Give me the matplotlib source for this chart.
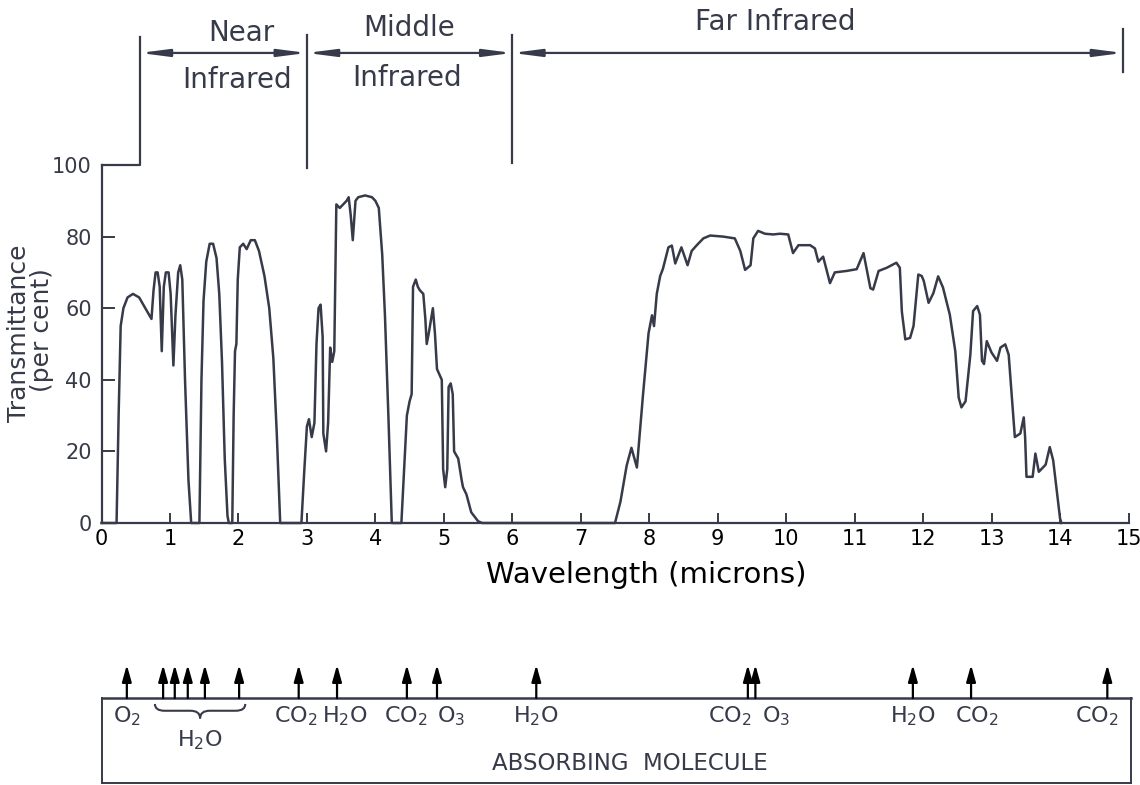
import matplotlib
matplotlib.use("Agg")
import matplotlib.pyplot as plt
from matplotlib.path import Path
from matplotlib.patches import PathPatch

# atmospheric transmittance curve
wavelength = [0.00, 0.22, 0.25, 0.28, 0.32, 0.38, 0.46, 0.55, 0.64, 0.73, 0.76, 0.79, 0.82, 0.85,
              0.88, 0.91, 0.94, 0.98, 1.01, 1.05, 1.08, 1.12, 1.15, 1.18, 1.22, 1.27, 1.31, 1.43,
              1.46, 1.49, 1.53, 1.58, 1.63, 1.68, 1.72, 1.76, 1.80, 1.84, 1.86, 1.91, 1.93, 1.95,
              1.97, 1.99, 2.02, 2.07, 2.12, 2.18, 2.24, 2.30, 2.38, 2.45, 2.51, 2.56, 2.61, 2.92,
              2.96, 3.00, 3.03, 3.07, 3.11, 3.14, 3.17, 3.20, 3.23, 3.24, 3.28, 3.31, 3.34, 3.37,
              3.40, 3.43, 3.48, 3.53, 3.58, 3.61, 3.64, 3.67, 3.71, 3.75, 3.85, 3.95, 4.00, 4.05,
              4.10, 4.14, 4.19, 4.24, 4.38, 4.42, 4.46, 4.50, 4.53, 4.55, 4.59, 4.62, 4.65, 4.70,
              4.73, 4.75, 4.78, 4.84, 4.87, 4.90, 4.97, 4.99, 5.02, 5.05, 5.07, 5.10, 5.13, 5.15,
              5.21, 5.26, 5.28, 5.33, 5.40, 5.50, 5.56, 7.50, 7.58, 7.67, 7.74, 7.82, 7.91, 7.99,
              8.04, 8.07, 8.11, 8.16, 8.20, 8.28, 8.33, 8.38, 8.47, 8.56, 8.62, 8.69, 8.79, 8.89,
              9.08, 9.25, 9.33, 9.40, 9.48, 9.52, 9.59, 9.69, 9.81, 9.91, 10.03, 10.10, 10.18,
              10.35, 10.42, 10.47, 10.54, 10.64, 10.71, 10.88, 11.03, 11.13, 11.23, 11.27, 11.35,
              11.47, 11.61, 11.66, 11.69, 11.74, 11.81, 11.86, 11.93, 11.98, 12.01, 12.08, 12.15,
              12.22, 12.29, 12.39, 12.47, 12.52, 12.56, 12.62, 12.69, 12.73, 12.79, 12.83, 12.86,
              12.89, 12.93, 13.00, 13.08, 13.13, 13.20, 13.25, 13.30, 13.34, 13.42, 13.47, 13.49,
              13.51, 13.60, 13.64, 13.69, 13.79, 13.85, 13.90, 14.00, 14.02]
transmittance = [0, 0, 30, 55, 60, 63, 64, 63, 60, 57, 65, 70, 70, 66,
                 48, 66, 70, 70, 64, 44, 58, 70, 72, 68, 40, 12, 0, 0,
                 40, 62, 73, 78, 78, 74, 64, 45, 18, 2, 0, 0, 30, 48,
                 50, 68, 77, 78, 76.5, 79, 79, 76, 69, 60, 46, 25, 0, 0,
                 14, 27, 29, 24, 28, 50, 60, 61, 52, 25, 20, 28, 49, 45,
                 48, 89, 88, 89, 90, 91, 86, 79, 90, 91, 91.5, 91, 90, 88,
                 75, 58, 30, 0, 0, 15, 30, 34, 36, 66, 68, 66, 65, 64,
                 57, 50, 53, 60, 53, 43, 40, 15, 10, 15, 38, 39, 36, 20,
                 18, 12, 10, 8, 3, 0.5, 0, 0, 6, 16, 21, 15.5, 36, 53,
                 58, 55, 64, 69, 71, 77, 77.5, 72.5, 77, 72, 76, 77.5, 79.5, 80.3,
                 80, 79.5, 76, 70.7, 72, 79.5, 81.6, 80.8, 80.6, 80.8, 80.6, 75.4, 77.6,
                 77.6, 76.7, 73, 74.4, 67, 70, 70.4, 70.9, 75.4, 65.6, 65.2, 70.4,
                 71.3, 72.7, 71.3, 59, 51.3, 51.7, 55, 69.4, 69, 67.6, 61.5, 64.2,
                 68.9, 65.8, 58.2, 48, 35, 32.3, 34, 47, 59.2, 60.6, 58.2, 45.3,
                 44.4, 50.8, 47.6, 45.3, 49, 49.9, 47, 34.2, 24, 25, 29.5, 24,
                 12.9, 12.9, 19.4, 14.3, 16.3, 21.2, 17.5, 1.3, 0]

# spectral regions (microns)
region_names = ["Near\nInfrared", "Middle\nInfrared", "Far Infrared"]
region_edges = [0.56, 3.0, 6.0, 14.92]

# absorbing molecules: arrow positions and label positions
arrow_x = [0.37, 0.90, 1.07, 1.26, 1.51, 2.01, 2.88, 3.44, 4.46, 4.90,
           6.35, 9.44, 9.55, 11.85, 12.70, 14.69]
mol_labels = ["O$_2$", "H$_2$O", "CO$_2$", "H$_2$O", "CO$_2$", "O$_3$",
              "H$_2$O", "CO$_2$", "O$_3$", "H$_2$O", "CO$_2$", "CO$_2$"]
mol_label_x = [0.37, 1.44, 2.83, 3.56, 4.45, 5.10, 6.35, 9.18, 9.85, 11.85, 12.79, 14.54]

ink = "#373b49"
W, H = 1140, 785
plt.rcParams["font.family"] = "DejaVu Sans"

fig = plt.figure(figsize=(W / 100, H / 100), dpi=100)
fig.patch.set_facecolor("white")

# main transmittance axes
ax = fig.add_axes([101.5 / W, 1 - 523 / H, 1027 / W, 358 / H])
ax.plot(wavelength, transmittance, color=ink, lw=1.8, clip_on=False, solid_joinstyle="round")
ax.set_xlim(0, 15)
ax.set_ylim(0, 100)
ax.set_xticks(range(0, 16))
ax.set_yticks(range(0, 101, 20))
for s in ["top", "right"]:
    ax.spines[s].set_visible(False)
for s in ["left", "bottom"]:
    ax.spines[s].set_color(ink)
    ax.spines[s].set_linewidth(1.6)
ax.tick_params(axis="x", direction="in", length=7, width=1.4, color=ink,
               labelsize=15, labelcolor="black", pad=4)
ax.tick_params(axis="y", direction="in", length=9, width=1.4, color=ink,
               labelsize=15, labelcolor=ink, pad=7)

# region brackets above the plot
lkw = dict(color=ink, lw=1.6, clip_on=False)
ax.plot([0, region_edges[0], region_edges[0]], [100, 100, 135.8], **lkw)
ax.plot([region_edges[1], region_edges[1]], [99.2, 136.3], **lkw)
ax.plot([region_edges[2], region_edges[2]], [100.6, 136.3], **lkw)
ax.plot([region_edges[3], region_edges[3]], [126, 138], **lkw)
for a, b in zip(region_edges[:-1], region_edges[1:]):
    ax.annotate("", xy=(b, 131.3), xytext=(a, 131.3), annotation_clip=False,
                arrowprops=dict(arrowstyle="<|-|>,head_length=0.85,head_width=0.11",
                                color=ink, lw=1.6, shrinkA=0, shrinkB=0, mutation_scale=20))
tkw = dict(ha="center", va="center", fontsize=20, color=ink)
ax.text(2.04, 136.9, region_names[0].split("\n")[0], **tkw)
ax.text(1.98, 123.7, region_names[0].split("\n")[1], **tkw)
ax.text(4.50, 138.3, region_names[1].split("\n")[0], **tkw)
ax.text(4.46, 124.3, region_names[1].split("\n")[1], **tkw)
ax.text(9.84, 140.0, region_names[2], **tkw)

fig.text(19 / W, 1 - 333 / H, "Transmittance", rotation=90, ha="center", va="center",
         fontsize=18, color=ink)
fig.text(42 / W, 1 - 330 / H, "(per cent)", rotation=90, ha="center", va="center",
         fontsize=18, color=ink)
fig.text(646 / W, 1 - 575 / H, "Wavelength (microns)", ha="center", va="center",
         fontsize=21, color="black")

# absorbing molecule strip
bx = fig.add_axes([101.5 / W, 1 - 783 / H, 1029.5 / W, 85 / H])
bx.set_xlim(0, 1029.5 / 68.47)
bx.set_ylim(0, 1)
bx.set_xticks([])
bx.set_yticks([])
for s in bx.spines.values():
    s.set_color(ink)
    s.set_linewidth(1.4)
bx.spines["top"].set_linewidth(1.8)

for x in arrow_x:
    bx.annotate("", xy=(x, 1.39), xytext=(x, 1.0), annotation_clip=False,
                arrowprops=dict(arrowstyle="-|>,head_length=0.5,head_width=0.14",
                                color="black", lw=1.6, shrinkA=0, shrinkB=0, mutation_scale=20))

for x, name in zip(mol_label_x, mol_labels):
    if x == mol_label_x[1]:
        # label sits below the brace for the water group
        bx.text(x, 0.50, name, ha="center", va="center", fontsize=16, color=ink)
    else:
        bx.text(x, 0.79, name, ha="center", va="center", fontsize=16, color=ink)

# curly brace under the H2O group
bc, bh, r = mol_label_x[1], 0.66, 0.14
yt, ym, yb = 0.93, 0.85, 0.76
verts = [(bc - bh, yt), (bc - bh, ym), (bc - bh + r, ym),
         (bc - r, ym), (bc, ym), (bc, yb),
         (bc, ym), (bc + r, ym),
         (bc + bh - r, ym), (bc + bh, ym), (bc + bh, yt)]
codes = [Path.MOVETO, Path.CURVE3, Path.CURVE3,
         Path.LINETO, Path.CURVE3, Path.CURVE3,
         Path.CURVE3, Path.CURVE3,
         Path.LINETO, Path.CURVE3, Path.CURVE3]
bx.add_patch(PathPatch(Path(verts, codes), fill=False, ec=ink, lw=1.5))

bx.text(7.72, 0.235, "ABSORBING  MOLECULE", ha="center", va="center", fontsize=16.5, color=ink)

fig.savefig("out.png", dpi=100, facecolor="white")
